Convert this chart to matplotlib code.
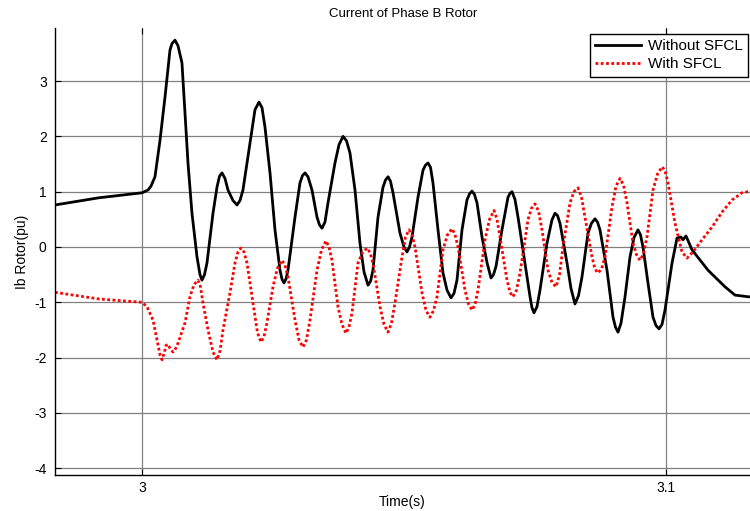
import matplotlib
matplotlib.use('Agg')
import matplotlib.pyplot as plt

plt.rcParams['font.family'] = ['Liberation Sans', 'DejaVu Sans']
plt.rcParams['axes.unicode_minus'] = False

# Without SFCL (black solid)
t_without = [2.98340, 2.99179, 3.00000, 3.00115, 3.00172, 3.00248, 3.00344, 3.00439, 3.00534,
             3.00573, 3.00630, 3.00687, 3.00763, 3.00821, 3.00878, 3.00954, 3.01050, 3.01107,
             3.01145, 3.01193, 3.01240, 3.01355, 3.01431, 3.01479, 3.01527, 3.01584, 3.01641,
             3.01737, 3.01813, 3.01870, 3.01927, 3.02061, 3.02156, 3.02233, 3.02290, 3.02347,
             3.02443, 3.02538, 3.02634, 3.02672, 3.02710, 3.02748, 3.02786, 3.02920, 3.03015,
             3.03063, 3.03111, 3.03168, 3.03244, 3.03340, 3.03387, 3.03435, 3.03492, 3.03550,
             3.03683, 3.03760, 3.03836, 3.03903, 3.03969, 3.04065, 3.04160, 3.04237, 3.04313,
             3.04361, 3.04408, 3.04504, 3.04599, 3.04647, 3.04695, 3.04742, 3.04790, 3.04924,
             3.05000, 3.05057, 3.05105, 3.05153, 3.05267, 3.05363, 3.05410, 3.05458, 3.05506,
             3.05553, 3.05649, 3.05744, 3.05821, 3.05897, 3.05954, 3.06011, 3.06107, 3.06202,
             3.06250, 3.06298, 3.06345, 3.06393, 3.06489, 3.06584, 3.06660, 3.06708, 3.06756,
             3.06870, 3.06985, 3.07023, 3.07061, 3.07118, 3.07176, 3.07309, 3.07405, 3.07443,
             3.07481, 3.07538, 3.07595, 3.07729, 3.07824, 3.07882, 3.07929, 3.07977, 3.08111,
             3.08187, 3.08263, 3.08330, 3.08397, 3.08511, 3.08578, 3.08645, 3.08693, 3.08740,
             3.08874, 3.08989, 3.09036, 3.09084, 3.09141, 3.09218, 3.09313, 3.09389, 3.09466,
             3.09513, 3.09561, 3.09656, 3.09752, 3.09809, 3.09866, 3.09924, 3.09981, 3.10115,
             3.10210, 3.10286, 3.10324, 3.10382, 3.10496, 3.10802, 3.11126, 3.11317, 3.11565,
             3.11794]
ib_without = [0.76, 0.89, 0.98, 1.03, 1.10, 1.27, 1.93, 2.71, 3.56,
              3.68, 3.74, 3.64, 3.33, 2.42, 1.52, 0.61, -0.18, -0.50,
              -0.60, -0.50, -0.29, 0.61, 1.08, 1.28, 1.34, 1.24, 1.03,
              0.84, 0.76, 0.84, 1.03, 1.88, 2.48, 2.62, 2.52, 2.17,
              1.34, 0.31, -0.42, -0.58, -0.65, -0.58, -0.42, 0.54, 1.16,
              1.29, 1.34, 1.27, 1.03, 0.54, 0.40, 0.34, 0.45, 0.80,
              1.52, 1.85, 2.00, 1.92, 1.70, 1.03, 0.07, -0.45, -0.69,
              -0.62, -0.42, 0.54, 1.08, 1.21, 1.27, 1.19, 0.98, 0.25,
              0.00, -0.09, 0.00, 0.18, 0.90, 1.39, 1.48, 1.52, 1.44,
              1.16, 0.31, -0.47, -0.78, -0.92, -0.84, -0.60, 0.31, 0.85,
              0.96, 1.01, 0.95, 0.80, 0.18, -0.28, -0.56, -0.50, -0.35,
              0.31, 0.90, 0.97, 1.00, 0.86, 0.54, -0.29, -0.90, -1.10,
              -1.19, -1.08, -0.78, 0.07, 0.49, 0.61, 0.57, 0.43, -0.29,
              -0.75, -1.03, -0.88, -0.54, 0.25, 0.43, 0.51, 0.45, 0.31,
              -0.42, -1.27, -1.45, -1.54, -1.38, -0.90, -0.18, 0.17, 0.31,
              0.22, 0.00, -0.65, -1.27, -1.42, -1.48, -1.40, -1.14, -0.29,
              0.16, 0.18, 0.13, 0.20, -0.05, -0.42, -0.72, -0.87, -0.90,
              -0.91]

# With SFCL (red dotted)
t_with = [2.98340, 2.99179, 3.00000, 3.00095, 3.00210, 3.00286, 3.00344, 3.00382, 3.00429,
          3.00458, 3.00496, 3.00544, 3.00592, 3.00630, 3.00687, 3.00821, 3.00916, 3.00992,
          3.01069, 3.01116, 3.01164, 3.01260, 3.01355, 3.01431, 3.01489, 3.01546, 3.01679,
          3.01775, 3.01832, 3.01889, 3.01947, 3.02004, 3.02118, 3.02204, 3.02271, 3.02328,
          3.02385, 3.02500, 3.02586, 3.02672, 3.02729, 3.02786, 3.02920, 3.02996, 3.03073,
          3.03139, 3.03206, 3.03340, 3.03426, 3.03511, 3.03569, 3.03626, 3.03740, 3.03817,
          3.03893, 3.03950, 3.04008, 3.04122, 3.04208, 3.04294, 3.04351, 3.04408, 3.04542,
          3.04618, 3.04695, 3.04761, 3.04828, 3.04962, 3.05029, 3.05095, 3.05153, 3.05210,
          3.05344, 3.05420, 3.05496, 3.05563, 3.05630, 3.05744, 3.05830, 3.05916, 3.05973,
          3.06031, 3.06164, 3.06231, 3.06298, 3.06355, 3.06412, 3.06546, 3.06632, 3.06718,
          3.06775, 3.06832, 3.06966, 3.07023, 3.07080, 3.07147, 3.07214, 3.07366, 3.07433,
          3.07500, 3.07567, 3.07634, 3.07748, 3.07824, 3.07901, 3.07968, 3.08034, 3.08168,
          3.08244, 3.08321, 3.08387, 3.08454, 3.08588, 3.08645, 3.08702, 3.08769, 3.08836,
          3.08969, 3.09046, 3.09122, 3.09189, 3.09256, 3.09370, 3.09437, 3.09504, 3.09571,
          3.09637, 3.09752, 3.09838, 3.09924, 3.09981, 3.10038, 3.10172, 3.10305, 3.10401,
          3.10515, 3.10687, 3.10878, 3.11069, 3.11260, 3.11450, 3.11565, 3.11794]
ib_with = [-0.82, -0.94, -1.00, -1.08, -1.32, -1.68, -1.95, -2.04, -1.90,
           -1.78, -1.76, -1.85, -1.90, -1.86, -1.74, -1.37, -0.90, -0.68,
           -0.60, -0.72, -1.01, -1.50, -1.90, -2.04, -1.88, -1.50, -0.83,
           -0.29, -0.09, -0.02, -0.09, -0.29, -1.01, -1.55, -1.72, -1.62,
           -1.37, -0.72, -0.38, -0.24, -0.33, -0.54, -1.32, -1.68, -1.81,
           -1.68, -1.32, -0.42, -0.05, 0.11, 0.00, -0.24, -1.08, -1.40,
           -1.56, -1.45, -1.19, -0.29, -0.10, -0.02, -0.10, -0.29, -1.08,
           -1.40, -1.54, -1.38, -1.01, -0.18, 0.18, 0.31, 0.22, 0.00,
           -0.83, -1.15, -1.27, -1.15, -0.90, -0.05, 0.22, 0.33, 0.23,
           0.00, -0.78, -1.03, -1.14, -1.04, -0.78, 0.13, 0.50, 0.66,
           0.50, 0.18, -0.60, -0.82, -0.90, -0.78, -0.47, 0.49, 0.70,
           0.78, 0.65, 0.31, -0.42, -0.64, -0.72, -0.50, 0.00, 0.80,
           1.00, 1.07, 0.90, 0.54, -0.18, -0.40, -0.47, -0.40, -0.18,
           0.72, 1.10, 1.24, 1.12, 0.80, 0.07, -0.14, -0.24, -0.12,
           0.18, 1.03, 1.32, 1.45, 1.38, 1.16, 0.43, -0.09, -0.20,
           -0.09, 0.13, 0.36, 0.63, 0.85, 0.98, 1.00, 1.01]

x_ticks = [3.0, 3.1]
x_ticklabels = ['3', '3.1']
y_ticks = [-4, -3, -2, -1, 0, 1, 2, 3]

fig = plt.figure(figsize=(7.5, 5.11), dpi=100)
ax = fig.add_axes([55 / 750, 1 - 475 / 511, 695 / 750, 447 / 511])

ax.plot(t_without, ib_without, color='black', linewidth=2.0, label='Without SFCL',
        solid_joinstyle='round')
ax.plot(t_with, ib_with, color='red', linestyle=(0, (1.0, 0.9)), linewidth=2.0,
        label='With SFCL')

ax.set_xlim(2.9834, 3.11603)
ax.set_ylim(-4.123, 3.960)
ax.set_xticks(x_ticks)
ax.set_xticklabels(x_ticklabels)
ax.set_yticks(y_ticks)
ax.grid(True, color='#808080', linewidth=0.9)
ax.set_axisbelow(True)

ax.spines['top'].set_visible(False)
ax.spines['right'].set_visible(False)
for s in ('left', 'bottom'):
    ax.spines[s].set_linewidth(1.0)
ax.tick_params(direction='in', length=4, width=0.8, top=True, right=False,
               labelsize=10, pad=6)
ax.tick_params(axis='x', pad=4)

ax.set_xlabel('Time(s)', fontsize=10, labelpad=0)
ax.set_ylabel('Ib Rotor(pu)', fontsize=10, labelpad=4)
fig.text(403 / 750, 1 - 14 / 511, 'Current of Phase B Rotor', ha='center', va='center',
         fontsize=9.5)

leg = ax.legend(loc='upper right', bbox_to_anchor=(748 / 750, 1 - 34 / 511),
                bbox_transform=fig.transFigure, fontsize=11, handlelength=3.0,
                fancybox=False, framealpha=1, edgecolor='black', borderpad=0.35,
                labelspacing=0.25, handletextpad=0.45, borderaxespad=0)
leg.get_frame().set_linewidth(1.0)

fig.savefig('out.png', dpi=100)
